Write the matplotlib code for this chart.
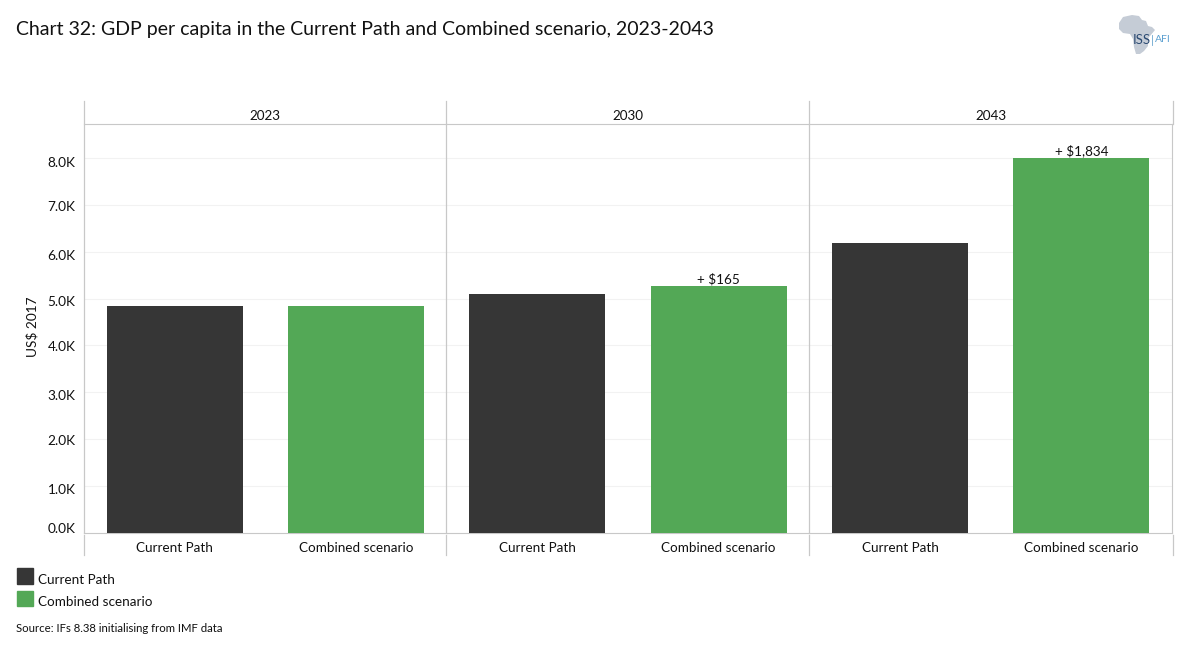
import matplotlib
matplotlib.use('Agg')
import matplotlib.pyplot as plt
from matplotlib.lines import Line2D
from matplotlib.patches import Polygon, Rectangle
from matplotlib.transforms import ScaledTranslation

plt.rcParams['font.family'] = ['Lato', 'DejaVu Sans']

W, H = 1186, 656

years = ['2023', '2030', '2043']
categories = ['Current Path', 'Combined scenario']
current_path = [4840, 5100, 6185]
combined = [4840, 5265, 8005]
diff_labels = ['', '+ $165', '+ $1,834']
yticks = [0, 1000, 2000, 3000, 4000, 5000, 6000, 7000, 8000]
ytick_labels = ['0.0K', '1.0K', '2.0K', '3.0K', '4.0K', '5.0K', '6.0K', '7.0K', '8.0K']
# the tick labels sit unevenly against the gridlines in the original (pixels down)
ytick_nudge = [-5, 3, 1, 3, 1, 2, 3, 1, 4]

dark = '#363636'
green = '#53A856'
line_col = '#c8c8c8'
grid_col = '#f2f2f2'


def fx(x):
    return x / W


def fy(y):
    return 1 - y / H


fig = plt.figure(figsize=(W / 100, H / 100), dpi=100)

left, right, top, bottom = 84.0, 1172.0, 124.0, 533.0
px_per_unit = 46.9 / 1000
panel_w = (right - left) / 3

for i, year in enumerate(years):
    ax = fig.add_axes([fx(left + i * panel_w), fy(bottom), panel_w / W, (bottom - top) / H])
    ax.set_xlim(-0.5, 1.5)
    ax.set_ylim(0, (bottom - top) / px_per_unit)
    ax.bar([0, 1], [current_path[i], combined[i]], width=0.75, color=[dark, green], zorder=3)
    ax.set_yticks(yticks)
    ax.yaxis.grid(True, color=grid_col, lw=0.8, zorder=0)
    ax.set_axisbelow(True)
    ax.set_xticks([0, 1])
    ax.set_xticklabels(categories, fontsize=9.75, color='#111111')
    ax.tick_params(axis='x', length=0, pad=6.3)
    if i == 0:
        ax.set_yticklabels(ytick_labels, fontsize=9.8, color='#111111')
        ax.tick_params(axis='y', length=0, pad=6)
        for lab, n in zip(ax.get_yticklabels(), ytick_nudge):
            lab.set_transform(lab.get_transform() + ScaledTranslation(0, -n / 100, fig.dpi_scale_trans))
    else:
        ax.tick_params(axis='y', length=0, labelleft=False)
    ax.spines['left'].set_visible(False)
    ax.spines['right'].set_visible(i == 2)
    ax.spines['right'].set_color(line_col)
    ax.spines['top'].set_color(line_col)
    ax.spines['bottom'].set_color(line_col)
    ax.text(0.5, 1 + 8 / (bottom - top), year, transform=ax.transAxes,
            ha='center', va='center', fontsize=9.75, color='#111111')
    if diff_labels[i]:
        ax.text(1, combined[i] + 15, diff_labels[i], ha='center', va='bottom',
                fontsize=9.75, color='#111111', zorder=4, linespacing=1)

fig.text(fx(32), fy(327), 'US$ 2017', fontsize=9.8, color='#111111', rotation=90,
         ha='center', va='center')

# panel dividers run past the axes into header and category rows
for i in range(4):
    x = left + i * panel_w + (0.5 if i == 3 else 0) - (0.5 if i in (1, 2) else 0)
    if i < 3:
        fig.add_artist(Line2D([fx(x), fx(x)], [fy(101), fy(533)], color=line_col, lw=0.9))
    else:
        fig.add_artist(Line2D([fx(x), fx(x)], [fy(101), fy(124)], color=line_col, lw=0.9))
    fig.add_artist(Line2D([fx(x), fx(x)], [fy(535), fy(555)], color=line_col, lw=0.9))

fig.text(fx(16), fy(29), 'Chart 32: GDP per capita in the Current Path and Combined scenario, 2023-2043',
         fontsize=14.04, color='#111111', va='center', ha='left')

# legend
fig.add_artist(Rectangle((fx(17), fy(584)), 16 / W, 16 / H, color=dark, transform=fig.transFigure))
fig.add_artist(Rectangle((fx(17), fy(606)), 16 / W, 15 / H, color=green, transform=fig.transFigure))
fig.text(fx(38), fy(580), categories[0], fontsize=9.75, color='#111111', va='center')
fig.text(fx(38), fy(602), categories[1], fontsize=9.75, color='#111111', va='center')
fig.text(fx(16), fy(628), 'Source: IFs 8.38 initialising from IMF data', fontsize=8.2,
         color='#111111', va='center')

# logo
africa = [(1119, 23), (1123, 17), (1132, 15), (1139, 16), (1142, 20), (1146, 21), (1148, 26),
          (1152, 27), (1155, 30), (1150, 36), (1148, 39), (1148, 46), (1144, 51), (1140, 54),
          (1136, 54), (1134, 47), (1133, 39), (1130, 34), (1123, 33), (1119, 29)]
fig.add_artist(Polygon([(fx(x), fy(y)) for x, y in africa], closed=True, color='#c5ccd6',
                       lw=0, transform=fig.transFigure))
fig.text(fx(1133), fy(40), 'ISS', fontsize=9.5, color='#2b4a72', va='center')
fig.add_artist(Line2D([fx(1152), fx(1152)], [fy(35), fy(45)], color='#6aa6cf', lw=0.6))
fig.text(fx(1155), fy(40), 'AFI', fontsize=7.5, color='#5a9fd0', va='center')

fig.savefig('out.png', dpi=100)
